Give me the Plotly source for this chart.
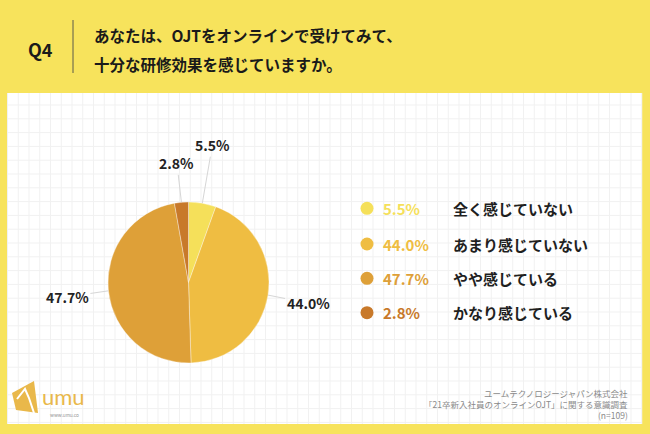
import math
import plotly.graph_objects as go

# ---- data ----
categories = ["全く感じていない", "あまり感じていない", "やや感じている", "かなり感じている"]
values = [5.5, 44.0, 47.7, 2.8]
pct_labels = ["5.5%", "44.0%", "47.7%", "2.8%"]
colors = ["#F5E05A", "#EFBD42", "#DEA038", "#C8792A"]
title_lines = ["あなたは、OJTをオンラインで受けてみて、", "十分な研修効果を感じていますか。"]
question = "Q4"
footer_lines = ["ユームテクノロジージャパン株式会社", "「21卒新入社員のオンラインOJT」に関する意識調査", "(n=109)"]

W, H = 650, 434
FONT = "Noto Sans CJK JP"

def px(x):
    return x / W

def py(y):
    return 1 - y / H

# pie geometry (pixels)
cx, cy, R = 188.5, 282.5, 80.5

fig = go.Figure()
fig.add_trace(go.Pie(
    labels=categories, values=values, sort=False, direction="clockwise", rotation=0,
    marker=dict(colors=colors, line=dict(color="rgba(255,255,255,0.6)", width=0.6)),
    textinfo="none", hoverinfo="label+percent", showlegend=False,
    domain=dict(x=[px(cx - R), px(cx + R)], y=[py(cy + R), py(cy - R)]),
))

shapes = []
annotations = []

def note(x, y, text, size, color, family=FONT, xanchor="left"):
    annotations.append(dict(x=px(x), y=py(y), xref="paper", yref="paper", xanchor=xanchor, yanchor="middle",
                            text=text, showarrow=False, font=dict(family=family, size=size, color=color)))

# white panel
shapes.append(dict(type="rect", xref="paper", yref="paper", x0=px(7), x1=px(642), y0=py(424), y1=py(93),
                   fillcolor="white", line=dict(width=0), layer="below"))
# grid on panel
gx = 7.5
while gx < 642:
    shapes.append(dict(type="line", xref="paper", yref="paper", x0=px(gx), x1=px(gx), y0=py(424), y1=py(93),
                       line=dict(color="#F1F1F1", width=1), layer="below"))
    gx += 10.75
gy = 105
while gy < 424:
    shapes.append(dict(type="line", xref="paper", yref="paper", x0=px(7), x1=px(642), y0=py(gy), y1=py(gy),
                       line=dict(color="#F1F1F1", width=1), layer="below"))
    gy += 13.8

# header
shapes.append(dict(type="line", xref="paper", yref="paper", x0=px(73), x1=px(73), y0=py(20), y1=py(73),
                   line=dict(color="#5a5a4a", width=1)))
note(40, 49, "<b>" + question + "</b>", 18, "#1a1a1a", xanchor="center")
for i, line in enumerate(title_lines):
    note(92, 35 + 28.5 * i, "<b>" + line + "</b>", 15.5, "#1a1a1a")

# slice labels with leader lines
label_offsets = [(10, -58), (40, 8), (-41, 6), (-4.5, -39)]
total = sum(values)
cum = 0
for v, lab, (ox, oy) in zip(values, pct_labels, label_offsets):
    mid = (cum + v / 2) / total * 2 * math.pi
    cum += v
    ex = cx + R * math.sin(mid)
    ey = cy - R * math.cos(mid)
    annotations.append(dict(x=px(ex), y=py(ey), xref="paper", yref="paper", ax=ox, ay=oy,
                            text="<b>" + lab + "</b>", showarrow=True, arrowhead=0, arrowwidth=1,
                            arrowcolor="#D6D6D6", standoff=0,
                            font=dict(family=FONT, size=14, color="#222222")))

# legend
leg_y = [208.3, 244, 278.3, 312.7]
for cat, lab, col, ly in zip(categories, pct_labels, colors, leg_y):
    shapes.append(dict(type="circle", xref="paper", yref="paper", x0=px(360.5), x1=px(373.5),
                       y0=py(ly + 6.5), y1=py(ly - 6.5), fillcolor=col, line=dict(width=0)))
    note(381, ly, "<b>" + lab + "</b>", 15, col)
    note(451, ly, "<b>" + cat + "</b>", 15, "#1f1f1f")

# footer text
for i, line in enumerate(footer_lines):
    note(630, 393 + 11.2 * i, line, 8.5, "#8a8a8a", xanchor="right")

# logo
gold = "#E9B84A"
path = "M {} {} L {} {} L {} {} L {} {} Z".format(px(12), py(393), px(34), py(381), px(38), py(413), px(16), py(410))
shapes.append(dict(type="path", xref="paper", yref="paper", path=path, fillcolor=gold, line=dict(width=0)))
giraffe = "M {} {} L {} {} L {} {} L {} {}".format(px(17), py(399), px(25), py(389), px(29), py(398), px(34), py(413))
shapes.append(dict(type="path", xref="paper", yref="paper", path=giraffe, line=dict(color="white", width=2)))
note(40, 396, "umu", 22, gold, family="Lato")
note(64, 414.5, "www.umu.co", 5, "#999999", family="Lato", xanchor="center")

fig.update_layout(
    width=W, height=H, margin=dict(l=0, r=0, t=0, b=0),
    paper_bgcolor="#F7E35C", plot_bgcolor="#F7E35C",
    shapes=shapes, annotations=annotations,
    xaxis=dict(visible=False), yaxis=dict(visible=False),
)
fig.write_html("out.html", config={"displayModeBar": False},
               post_script="document.body.style.margin='0';document.body.style.overflow='hidden';")
